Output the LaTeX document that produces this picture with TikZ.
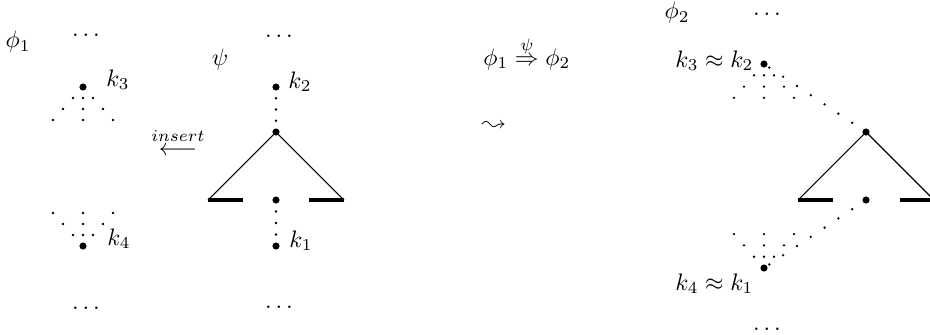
\documentclass[tikz,border=0pt]{standalone}
\usepackage{latexsym}

\begin{document}
\begin{tikzpicture}[
      x=0.42pt, y=-0.42pt,
      bigdot/.style={circle, fill, inner sep=0pt, minimum size=3pt},
      dotline/.style={line width=1.1pt, line cap=round, dash pattern=on 0pt off #1},
      side/.style={line width=0.45pt},
      leaf/.style={line width=1.3pt},
      klabel/.style={anchor=base west, inner sep=0pt},
      more/.style={inner sep=0pt}
    ]
      \useasboundingbox (0,0) rectangle (930,334);
      \clip (0,0) rectangle (930,334);

      % phi_1 with the two leaves
      \node (phione) at (18,42) {$\phi_1$};
      \node[more] (phionetop) at (86,35) {$\ldots$};
      \node[more] (phionebot) at (86,308) {$\ldots$};
      \node[bigdot] (kthree) at (83,87) {};
      \node[bigdot] (kfour) at (83,246) {};
      \node[klabel] (kthreelbl) at (106,86) {$k_3$};
      \node[klabel] (kfourlbl) at (107,245) {$k_4$};
      \foreach \d in {1,2,3}
        \foreach \s in {-1,0,1} {
          \fill (kthree.center) ++(\s*10*\d,11*\d) circle[radius=0.55pt];
          \fill (kfour.center) ++(\s*10*\d,-11*\d) circle[radius=0.55pt];
        }

      \node (insert) at (178,142) {$\stackrel{insert}{\longleftarrow}$};

      % psi
      \node (psi) at (220,60) {$\psi$};
      \node[more] (psitop) at (279,36) {$\ldots$};
      \node[more] (psibot) at (279,307) {$\ldots$};
      \node[bigdot] (ktwo) at (276,87) {};
      \node[bigdot] (root) at (276,132) {};
      \node[bigdot] (hole) at (276,200) {};
      \node[bigdot] (kone) at (276,246) {};
      \node[klabel] (ktwolbl) at (288,88) {$k_2$};
      \node[klabel] (konelbl) at (289,247) {$k_1$};
      \coordinate (psileft) at (208,200);
      \coordinate (psiright) at (344,200);
      \draw[side] (psileft) -- (root.center) -- (psiright);
      \draw[leaf] (psileft) -- ++(35,0);
      \draw[leaf] (psiright) -- ++(-35,0);
      \draw[dotline=4.72pt] (root.center) -- (ktwo.center);
      \draw[dotline=4.83pt] (hole.center) -- (kone.center);

      % the rule
      \node[klabel] (rule) at (483,65) {$\phi_1 \stackrel{\psi}{\Rightarrow} \phi_2$};
      \node (yields) at (494,126) {$\leadsto$};

      % phi_2
      \node (phitwo) at (677,13) {$\phi_2$};
      \node[more] (phitwotop) at (767,14) {$\ldots$};
      \node[more] (phitwobot) at (767,329) {$\ldots$};
      \node[bigdot] (kup) at (764,64) {};
      \node[bigdot] (rroot) at (866,132) {};
      \node[bigdot] (rhole) at (866,200) {};
      \node[bigdot] (kdown) at (764,268) {};
      \node[klabel] (kuplbl) at (675,67) {$k_3 \approx k_2$};
      \node[klabel] (kdownlbl) at (675,290) {$k_4 \approx k_1$};
      \coordinate (rleft) at (798,200);
      \coordinate (rright) at (934,200);
      \draw[side] (rleft) -- (rroot.center) -- (rright);
      \draw[leaf] (rleft) -- ++(35,0);
      \draw[leaf] (rright) -- ++(-34,0);
      \draw[dotline=6.97pt] (rroot.center) -- (kup.center);
      \draw[dotline=6.97pt] (rhole.center) -- (kdown.center);
      \foreach \d in {1,2,3}
        \foreach \s in {-1,0,1} {
          \fill (kup.center) ++(\s*10*\d,11.3*\d) circle[radius=0.55pt];
          \fill (kdown.center) ++(\s*10*\d,-11.3*\d) circle[radius=0.55pt];
        }
    \end{tikzpicture}
\end{document}
